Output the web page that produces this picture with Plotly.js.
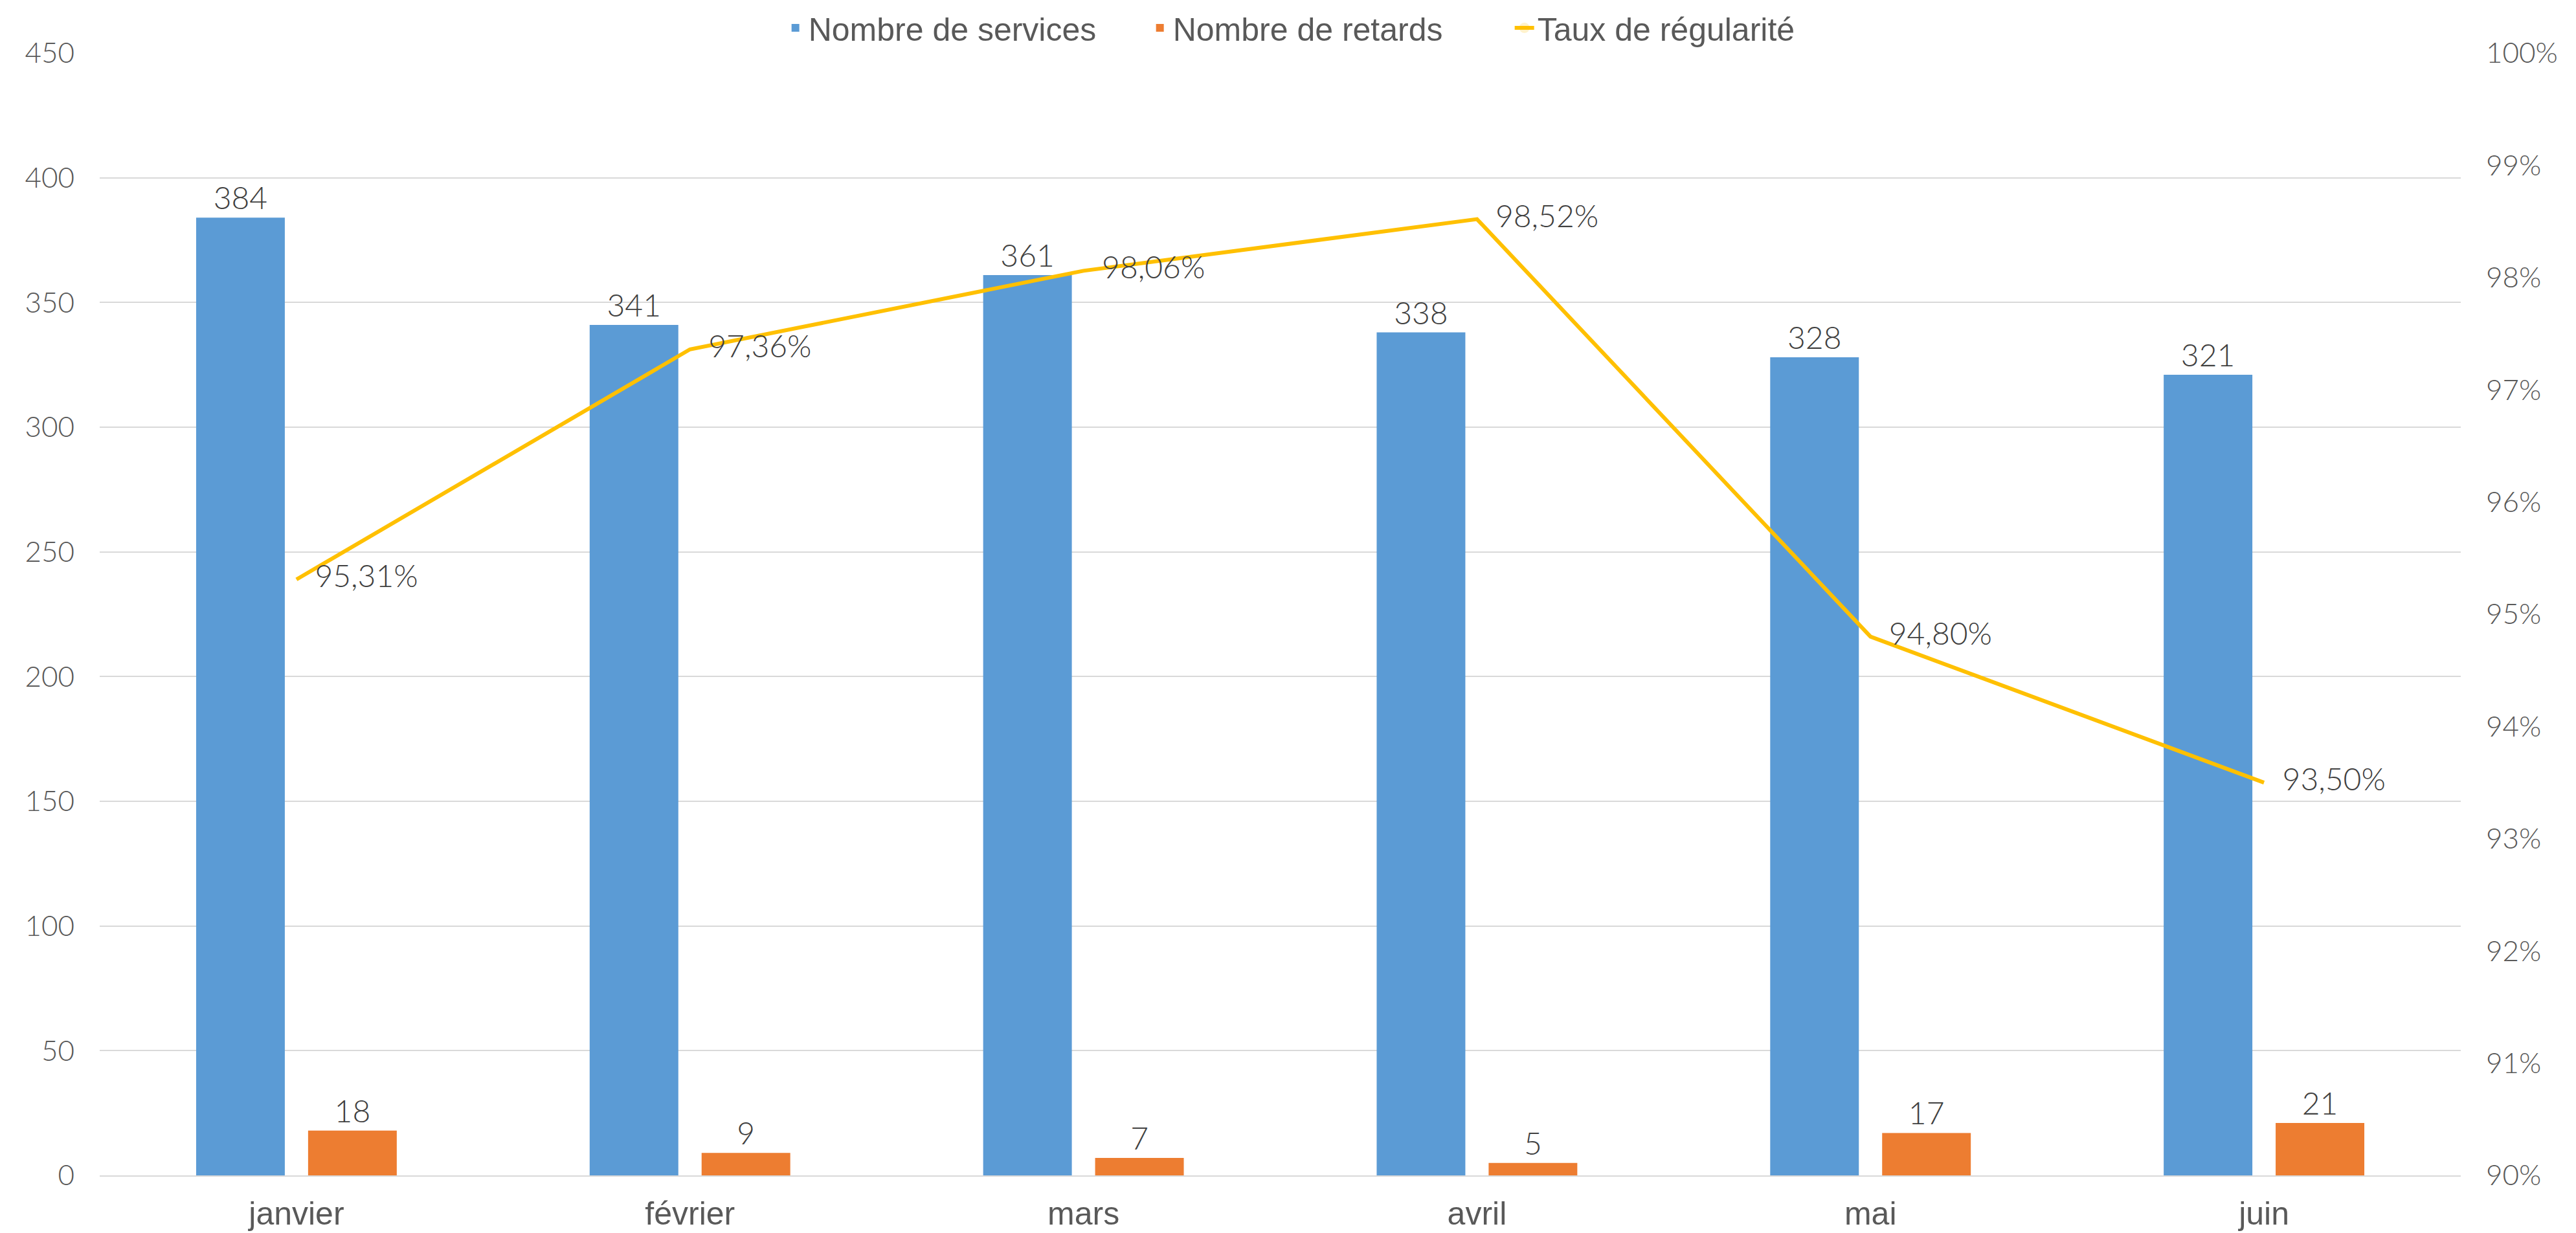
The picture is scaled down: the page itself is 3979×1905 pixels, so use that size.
<!DOCTYPE html>
<html>
<head>
<meta charset="utf-8">
<script src="https://cdn.plot.ly/plotly-3.0.1.min.js"></script>
<style>html,body{margin:0;padding:0;background:#fff;}#chart{width:3979px;height:1905px;}</style>
</head>
<body>
<div id="chart"></div>
<script>
const months = ["janvier", "février", "mars", "avril", "mai", "juin"];
const services = [384, 341, 361, 338, 328, 321];
const retards = [18, 9, 7, 5, 17, 21];
const regularite = [95.31, 97.36, 98.06, 98.52, 94.80, 93.50];

const labelFont = {family: "Lato, 'Open Sans', sans-serif", size: 48, color: "#404040", weight: 300};
const tickFont = {family: "Lato, 'Open Sans', sans-serif", size: 44, color: "#595959", weight: 300};
const narrowFont = {family: "'Liberation Sans Narrow', 'Arial Narrow', 'Liberation Sans', sans-serif", size: 50, color: "#595959"};

const traces = [
  {
    type: "bar", name: "Nombre de services", x: months, y: services,
    marker: {color: "#5B9BD5"},
    text: services.map(v => String(v)), textposition: "outside",
    textfont: labelFont, cliponaxis: false, hoverinfo: "skip"
  },
  {
    type: "bar", name: "Nombre de retards", x: months, y: retards,
    marker: {color: "#ED7D31"},
    text: retards.map(v => String(v)), textposition: "outside",
    textfont: labelFont, cliponaxis: false, hoverinfo: "skip"
  },
  {
    type: "scatter", mode: "lines+markers+text", name: "Taux de régularité",
    x: months, y: regularite, yaxis: "y2",
    line: {color: "#FFC000", width: 6},
    marker: {size: 44, opacity: 0, color: "#FFC000"},
    text: regularite.map(v => v.toFixed(2).replace(".", ",") + "%"),
    textposition: "middle right", textfont: labelFont, cliponaxis: false,
    hoverinfo: "skip"
  }
];

const layout = {
  width: 3979, height: 1905,
  margin: {l: 154, r: 178, t: 79, b: 89},
  paper_bgcolor: "#ffffff", plot_bgcolor: "#ffffff",
  barmode: "group", bargap: 0.431, bargroupgap: 0.208,
  showlegend: true,
  legend: {
    orientation: "h", x: 0.516, xanchor: "center", xref: "container",
    y: 1 - 43 / 1905, yanchor: "middle", yref: "container",
    font: narrowFont, entrywidth: 518, entrywidthmode: "pixels",
    traceorder: "normal"
  },
  xaxis: {
    type: "category", showgrid: false, zeroline: false,
    showline: true, linecolor: "#D9D9D9", linewidth: 2,
    ticks: "", tickfont: narrowFont, ticklabelstandoff: 14
  },
  yaxis: {
    range: [0, 450], dtick: 50, tick0: 0,
    showgrid: true, gridcolor: "#D9D9D9", gridwidth: 2,
    zeroline: false, showline: false, ticks: "",
    tickfont: tickFont, ticklabelstandoff: 38
  },
  yaxis2: {
    overlaying: "y", side: "right",
    range: [90, 100], dtick: 1, tick0: 90, ticksuffix: "%",
    showgrid: false, zeroline: false, showline: false, ticks: "",
    tickfont: tickFont, ticklabelstandoff: 38
  }
};

Plotly.newPlot("chart", traces, layout, {staticPlot: true, displayModeBar: false});
</script>
</body>
</html>
